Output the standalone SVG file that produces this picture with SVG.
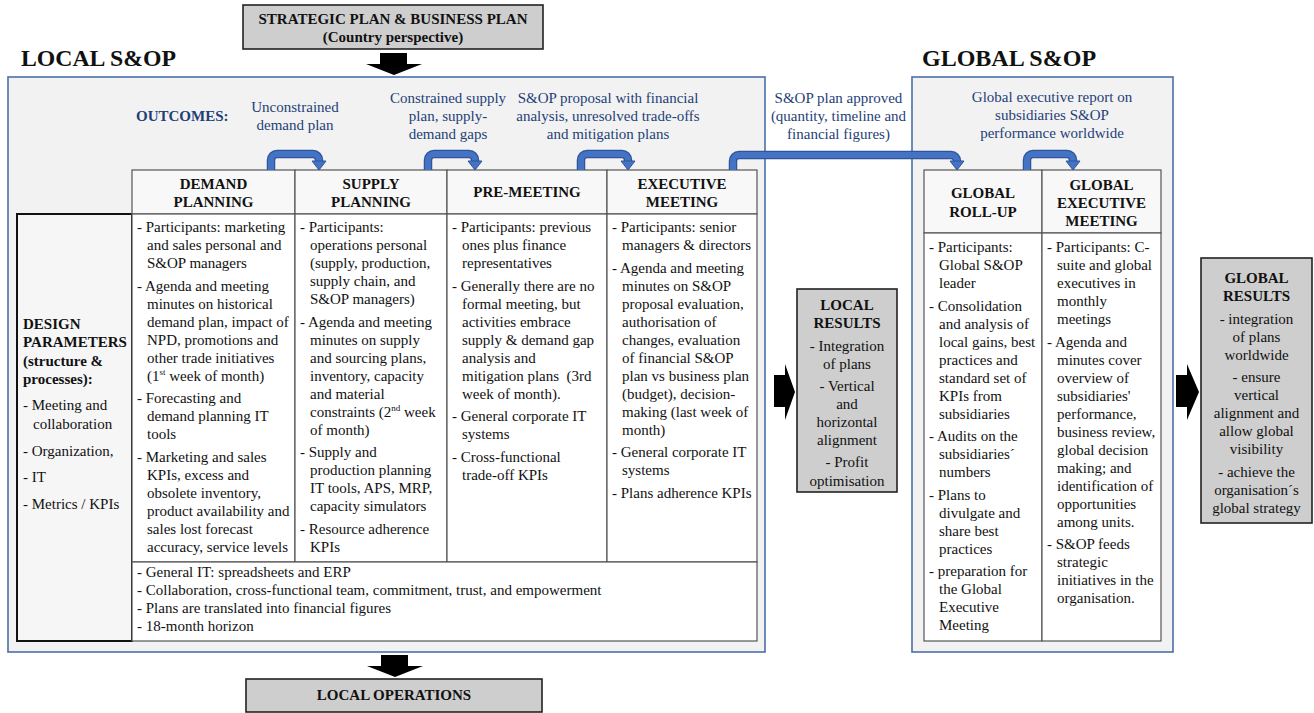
<svg xmlns="http://www.w3.org/2000/svg" width="1314" height="713" viewBox="0 0 1314 713">
<style>
.t{font-family:"Liberation Serif","Times New Roman",serif;font-size:15px;fill:#111}
.b{font-weight:bold}
.c{text-anchor:middle}
.o{fill:#1f3f77}
.ttl{font-family:"Liberation Serif","Times New Roman",serif;font-size:24px;font-weight:bold;fill:#111}
.bluebox{fill:#f2f2f2;stroke:#4a6ea9;stroke-width:1.6}
.gray{fill:#cecece;stroke:#222;stroke-width:1.6}
.cell{fill:#fff;stroke:#555;stroke-width:1.2}
.hdr{fill:#f8f8f8;stroke:#555;stroke-width:1.2}
.dp{fill:#f6f6f6;stroke:#111;stroke-width:2}
.co{fill:none;stroke:#2f5597;stroke-width:8.5}
.ci{fill:none;stroke:#4472c4;stroke-width:6}
.ah{fill:#4472c4;stroke:#2f5597;stroke-width:1}
.blk{fill:#000}
</style>

<g id="title-local"><text class="ttl" x="21" y="66" textLength="155" lengthAdjust="spacingAndGlyphs">LOCAL S&amp;OP</text></g>
<g id="title-global"><text class="ttl" x="922" y="66">GLOBAL S&amp;OP</text></g>

<g id="strategic-plan">
<rect class="gray" x="243" y="5" width="300" height="44"/>
<text class="t b c" x="393" y="24">STRATEGIC PLAN &amp; BUSINESS PLAN</text>
<text class="t b c" x="393" y="42">(Country perspective)</text>
</g>

<g id="local-sop-frame"><rect class="bluebox" x="8" y="77" width="757" height="575"/></g>
<g id="global-sop-frame"><rect class="bluebox" x="912" y="77" width="261" height="575"/></g>

<g id="outcomes">
<text class="t b o" x="136" y="121">OUTCOMES:</text>
<text class="t o c" x="295" y="112">Unconstrained</text>
<text class="t o c" x="295" y="130">demand plan</text>
<text class="t o c" x="448" y="103">Constrained supply</text>
<text class="t o c" x="448" y="121">plan, supply-</text>
<text class="t o c" x="448" y="139">demand gaps</text>
<text class="t o c" x="608" y="103">S&amp;OP proposal with financial</text>
<text class="t o c" x="608" y="121">analysis, unresolved trade-offs</text>
<text class="t o c" x="608" y="139">and mitigation plans</text>
<text class="t o c" x="838.5" y="103">S&amp;OP plan approved</text>
<text class="t o c" x="838.5" y="121">(quantity, timeline and</text>
<text class="t o c" x="838.5" y="139">financial figures)</text>
<text class="t o c" x="1052" y="102">Global executive report on</text>
<text class="t o c" x="1052" y="120">subsidiaries S&amp;OP</text>
<text class="t o c" x="1052" y="138">performance worldwide</text>
</g>

<g id="design-parameters">
<rect class="dp" x="17" y="214" width="115" height="427"/>
<text class="t b" x="23" y="329">DESIGN</text>
<text class="t b" x="23" y="347">PARAMETERS</text>
<text class="t b" x="23" y="366">(structure &amp;</text>
<text class="t b" x="23" y="384">processes):</text>
<text class="t" x="23" y="410">- Meeting and</text>
<text class="t" x="33" y="429">collaboration</text>
<text class="t" x="23" y="456">- Organization,</text>
<text class="t" x="23" y="482">- IT</text>
<text class="t" x="23" y="509">- Metrics / KPIs</text>
</g>

<g id="demand-planning">
<rect class="hdr" x="132" y="170" width="163" height="44"/>
<rect class="cell" x="132" y="214" width="163" height="348"/>
<text class="t b c" x="213.5" y="189">DEMAND</text>
<text class="t b c" x="213.5" y="207">PLANNING</text>
<text class="t" x="137" y="232">- Participants: marketing</text>
<text class="t" x="147" y="250">and sales personal and</text>
<text class="t" x="147" y="268">S&amp;OP managers</text>
<text class="t" x="137" y="290.5">- Agenda and meeting</text>
<text class="t" x="147" y="308.5">minutes on historical</text>
<text class="t" x="147" y="326.5">demand plan, impact of</text>
<text class="t" x="147" y="344.5">NPD, promotions and</text>
<text class="t" x="147" y="362.5">other trade initiatives</text>
<text class="t" x="147" y="380.5">(1<tspan font-size="9" dy="-6">st</tspan><tspan dy="6"> week of month)</tspan></text>
<text class="t" x="137" y="403">- Forecasting and</text>
<text class="t" x="147" y="421">demand planning IT</text>
<text class="t" x="147" y="439">tools</text>
<text class="t" x="137" y="461.5">- Marketing and sales</text>
<text class="t" x="147" y="479.5">KPIs, excess and</text>
<text class="t" x="147" y="497.5">obsolete inventory,</text>
<text class="t" x="147" y="515.5">product availability and</text>
<text class="t" x="147" y="533.5">sales lost forecast</text>
<text class="t" x="147" y="551.5">accuracy, service levels</text>
</g>

<g id="supply-planning">
<rect class="hdr" x="295" y="170" width="152" height="44"/>
<rect class="cell" x="295" y="214" width="152" height="348"/>
<text class="t b c" x="371" y="189">SUPPLY</text>
<text class="t b c" x="371" y="207">PLANNING</text>
<text class="t" x="300" y="232">- Participants:</text>
<text class="t" x="310" y="250">operations personal</text>
<text class="t" x="310" y="268">(supply, production,</text>
<text class="t" x="310" y="286">supply chain, and</text>
<text class="t" x="310" y="304">S&amp;OP managers)</text>
<text class="t" x="300" y="326.5">- Agenda and meeting</text>
<text class="t" x="310" y="344.5">minutes on supply</text>
<text class="t" x="310" y="362.5">and sourcing plans,</text>
<text class="t" x="310" y="380.5">inventory, capacity</text>
<text class="t" x="310" y="398.5">and material</text>
<text class="t" x="310" y="416.5">constraints (2<tspan font-size="9" dy="-6">nd</tspan><tspan dy="6"> week</tspan></text>
<text class="t" x="310" y="434.5">of month)</text>
<text class="t" x="300" y="457">- Supply and</text>
<text class="t" x="310" y="475">production planning</text>
<text class="t" x="310" y="493">IT tools, APS, MRP,</text>
<text class="t" x="310" y="511">capacity simulators</text>
<text class="t" x="300" y="533.5">- Resource adherence</text>
<text class="t" x="310" y="551.5">KPIs</text>
</g>

<g id="pre-meeting">
<rect class="hdr" x="447" y="170" width="160" height="44"/>
<rect class="cell" x="447" y="214" width="160" height="348"/>
<text class="t b c" x="527" y="197">PRE-MEETING</text>
<text class="t" x="452" y="232">- Participants: previous</text>
<text class="t" x="462" y="250">ones plus finance</text>
<text class="t" x="462" y="268">representatives</text>
<text class="t" x="452" y="290.5">- Generally there are no</text>
<text class="t" x="462" y="308.5">formal meeting, but</text>
<text class="t" x="462" y="326.5">activities embrace</text>
<text class="t" x="462" y="344.5">supply &amp; demand gap</text>
<text class="t" x="462" y="362.5">analysis and</text>
<text class="t" x="462" y="380.5">mitigation plans &#160;(3rd</text>
<text class="t" x="462" y="398.5">week of month).</text>
<text class="t" x="452" y="421">- General corporate IT</text>
<text class="t" x="462" y="439">systems</text>
<text class="t" x="452" y="461.5">- Cross-functional</text>
<text class="t" x="462" y="479.5">trade-off KPIs</text>
</g>

<g id="executive-meeting">
<rect class="hdr" x="607" y="170" width="150" height="44"/>
<rect class="cell" x="607" y="214" width="150" height="348"/>
<text class="t b c" x="682" y="189">EXECUTIVE</text>
<text class="t b c" x="682" y="207">MEETING</text>
<text class="t" x="612" y="232">- Participants: senior</text>
<text class="t" x="622" y="250">managers &amp; directors</text>
<text class="t" x="612" y="272.5">- Agenda and meeting</text>
<text class="t" x="622" y="290.5">minutes on S&amp;OP</text>
<text class="t" x="622" y="308.5">proposal evaluation,</text>
<text class="t" x="622" y="326.5">authorisation of</text>
<text class="t" x="622" y="344.5">changes, evaluation</text>
<text class="t" x="622" y="362.5">of financial S&amp;OP</text>
<text class="t" x="622" y="380.5">plan vs business plan</text>
<text class="t" x="622" y="398.5">(budget), decision-</text>
<text class="t" x="622" y="416.5">making (last week of</text>
<text class="t" x="622" y="434.5">month)</text>
<text class="t" x="612" y="457">- General corporate IT</text>
<text class="t" x="622" y="475">systems</text>
<text class="t" x="612" y="497.5">- Plans adherence KPIs</text>
</g>

<g id="common-parameters">
<rect class="cell" x="132" y="562" width="625" height="79"/>
<text class="t" x="137" y="577">- General IT: spreadsheets and ERP</text>
<text class="t" x="137" y="595">- Collaboration, cross-functional team, commitment, trust, and empowerment</text>
<text class="t" x="137" y="613">- Plans are translated into financial figures</text>
<text class="t" x="137" y="631">- 18-month horizon</text>
</g>

<g id="global-roll-up">
<rect class="hdr" x="924" y="170" width="118" height="63"/>
<rect class="cell" x="924" y="233" width="118" height="408"/>
<text class="t b c" x="983" y="198">GLOBAL</text>
<text class="t b c" x="983" y="217">ROLL-UP</text>
<text class="t" x="929" y="252">- Participants:</text>
<text class="t" x="939" y="270">Global S&amp;OP</text>
<text class="t" x="939" y="288">leader</text>
<text class="t" x="929" y="310.5">- Consolidation</text>
<text class="t" x="939" y="328.5">and analysis of</text>
<text class="t" x="939" y="346.5">local gains, best</text>
<text class="t" x="939" y="364.5">practices and</text>
<text class="t" x="939" y="382.5">standard set of</text>
<text class="t" x="939" y="400.5">KPIs from</text>
<text class="t" x="939" y="418.5">subsidiaries</text>
<text class="t" x="929" y="441">- Audits on the</text>
<text class="t" x="939" y="459">subsidiaries´</text>
<text class="t" x="939" y="477">numbers</text>
<text class="t" x="929" y="499.5">- Plans to</text>
<text class="t" x="939" y="517.5">divulgate and</text>
<text class="t" x="939" y="535.5">share best</text>
<text class="t" x="939" y="553.5">practices</text>
<text class="t" x="929" y="576">- preparation for</text>
<text class="t" x="939" y="594">the Global</text>
<text class="t" x="939" y="612">Executive</text>
<text class="t" x="939" y="630">Meeting</text>
</g>

<g id="global-executive-meeting">
<rect class="hdr" x="1042" y="170" width="119" height="63"/>
<rect class="cell" x="1042" y="233" width="119" height="408"/>
<text class="t b c" x="1101.5" y="190">GLOBAL</text>
<text class="t b c" x="1101.5" y="208">EXECUTIVE</text>
<text class="t b c" x="1101.5" y="226">MEETING</text>
<text class="t" x="1047" y="252">- Participants: C-</text>
<text class="t" x="1057" y="270">suite and global</text>
<text class="t" x="1057" y="288">executives in</text>
<text class="t" x="1057" y="306">monthly</text>
<text class="t" x="1057" y="324">meetings</text>
<text class="t" x="1047" y="346.5">- Agenda and</text>
<text class="t" x="1057" y="364.5">minutes cover</text>
<text class="t" x="1057" y="382.5">overview of</text>
<text class="t" x="1057" y="400.5">subsidiaries'</text>
<text class="t" x="1057" y="418.5">performance,</text>
<text class="t" x="1057" y="436.5">business review,</text>
<text class="t" x="1057" y="454.5">global decision</text>
<text class="t" x="1057" y="472.5">making; and</text>
<text class="t" x="1057" y="490.5">identification of</text>
<text class="t" x="1057" y="508.5">opportunities</text>
<text class="t" x="1057" y="526.5">among units.</text>
<text class="t" x="1047" y="549">- S&amp;OP feeds</text>
<text class="t" x="1057" y="567">strategic</text>
<text class="t" x="1057" y="585">initiatives in the</text>
<text class="t" x="1057" y="603">organisation.</text>
</g>

<g id="local-results">
<rect class="gray" x="797" y="289" width="100" height="203"/>
<text class="t b c" x="847" y="310">LOCAL</text>
<text class="t b c" x="847" y="328">RESULTS</text>
<text class="t c" x="847" y="351">- Integration</text>
<text class="t c" x="847" y="369">of plans</text>
<text class="t c" x="847" y="391">- Vertical</text>
<text class="t c" x="847" y="409">and</text>
<text class="t c" x="847" y="427">horizontal</text>
<text class="t c" x="847" y="445">alignment</text>
<text class="t c" x="847" y="467">- Profit</text>
<text class="t c" x="847" y="485.5">optimisation</text>
</g>

<g id="global-results">
<rect class="gray" x="1201" y="258" width="111" height="265"/>
<text class="t b c" x="1256.5" y="283">GLOBAL</text>
<text class="t b c" x="1256.5" y="301">RESULTS</text>
<text class="t c" x="1256.5" y="323.5">- integration</text>
<text class="t c" x="1256.5" y="341.5">of plans</text>
<text class="t c" x="1256.5" y="359.5">worldwide</text>
<text class="t c" x="1256.5" y="382">- ensure</text>
<text class="t c" x="1256.5" y="400">vertical</text>
<text class="t c" x="1256.5" y="418">alignment and</text>
<text class="t c" x="1256.5" y="436">allow global</text>
<text class="t c" x="1256.5" y="454">visibility</text>
<text class="t c" x="1256.5" y="476.5">- achieve the</text>
<text class="t c" x="1256.5" y="494.5">organisation´s</text>
<text class="t c" x="1256.5" y="512.5">global strategy</text>
</g>

<g id="local-operations">
<rect class="gray" x="246" y="679" width="296" height="33"/>
<text class="t b c" x="394" y="700">LOCAL OPERATIONS</text>
</g>

<g id="connectors">
<polygon class="blk" points="380,53 407,53 407,64 422,64 394,75 366,64 380,64"/>
<polygon class="blk" points="381,655 408,655 408,666 423,666 395,677 367,666 381,666"/>
<polygon class="blk" points="774,375 785,375 785,364 795,392 785,420 785,407 774,407"/>
<polygon class="blk" points="1176,375 1187,375 1187,364 1199,392 1187,420 1187,407 1176,407"/>

<path class="co" d="M271 170 V160 A6 6 0 0 1 277 154 H313 A6 6 0 0 1 319 160 V162"/>
<path class="ci" d="M271 170 V160 A6 6 0 0 1 277 154 H313 A6 6 0 0 1 319 160 V162"/>
<polygon class="ah" points="312,161 326,161 319,170"/>

<path class="co" d="M428 170 V160 A6 6 0 0 1 434 154 H469 A6 6 0 0 1 475 160 V162"/>
<path class="ci" d="M428 170 V160 A6 6 0 0 1 434 154 H469 A6 6 0 0 1 475 160 V162"/>
<polygon class="ah" points="468,161 482,161 475,170"/>

<path class="co" d="M581 170 V160 A6 6 0 0 1 587 154 H622 A6 6 0 0 1 628 160 V162"/>
<path class="ci" d="M581 170 V160 A6 6 0 0 1 587 154 H622 A6 6 0 0 1 628 160 V162"/>
<polygon class="ah" points="621,161 635,161 628,170"/>

<path class="co" d="M733 170 V161 A6 6 0 0 1 739 155 H951 A6 6 0 0 1 957 161 V162"/>
<path class="ci" d="M733 170 V161 A6 6 0 0 1 739 155 H951 A6 6 0 0 1 957 161 V162"/>
<polygon class="ah" points="950,161 964,161 957,170"/>

<path class="co" d="M1027 170 V160 A6 6 0 0 1 1033 154 H1067 A6 6 0 0 1 1073 160 V162"/>
<path class="ci" d="M1027 170 V160 A6 6 0 0 1 1033 154 H1067 A6 6 0 0 1 1073 160 V162"/>
<polygon class="ah" points="1066,161 1080,161 1073,170"/>
</g>
</svg>
